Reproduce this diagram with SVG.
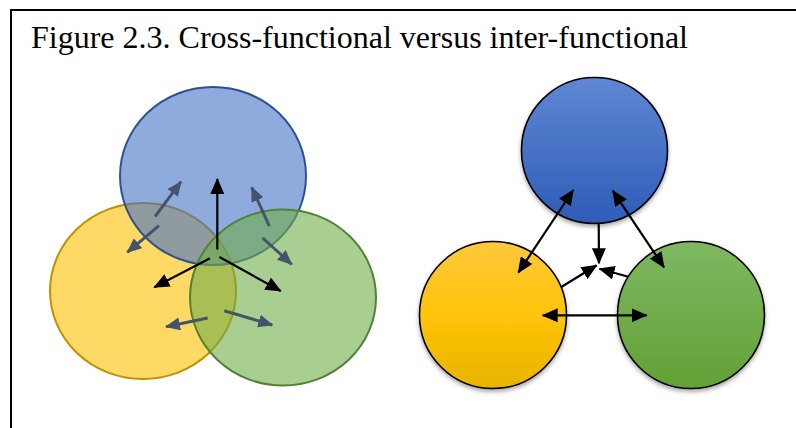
<svg xmlns="http://www.w3.org/2000/svg" width="796" height="428" viewBox="0 0 796 428">
  <style>
    .title { font-family: "Liberation Serif", "Times New Roman", serif; font-size: 32px; fill: #000; }
    .frame { fill: #fff; stroke: #000; stroke-width: 2; }
    .vb { fill: #4472C4; fill-opacity: 0.6; stroke: #2F528F; stroke-width: 2; }
    .vy { fill: #FFC000; fill-opacity: 0.6; stroke: #BF9000; stroke-width: 2; }
    .vg { fill: #70AD47; fill-opacity: 0.6; stroke: #538135; stroke-width: 2; }
    .cb { fill: url(#gBlue); stroke: #000; stroke-width: 1.6; filter: url(#shadow); }
    .cy { fill: url(#gYellow); stroke: #000; stroke-width: 1.6; filter: url(#shadow); }
    .cg { fill: url(#gGreen); stroke: #000; stroke-width: 1.6; filter: url(#shadow); }
    .blk { stroke: #000; stroke-width: 2.2; fill: none; marker-end: url(#mBlack); }
    .blk2 { stroke: #000; stroke-width: 2.2; fill: none; marker-start: url(#mBlack); marker-end: url(#mBlack); }
    .gry { stroke: #44546A; stroke-width: 3; fill: none; marker-end: url(#mGray); }
  </style>
  <defs>
    <marker id="mBlack" viewBox="0 0 16 14" refX="15" refY="7" markerWidth="16" markerHeight="14" markerUnits="userSpaceOnUse" orient="auto-start-reverse">
      <path d="M0,0 L16,7 L0,14 z" fill="#000"/>
    </marker>
    <marker id="mGray" viewBox="0 0 15 13" refX="14" refY="6.5" markerWidth="15" markerHeight="13" markerUnits="userSpaceOnUse" orient="auto-start-reverse">
      <path d="M0,0 L15,6.5 L0,13 z" fill="#44546A"/>
    </marker>
    <linearGradient id="gBlue" x1="0" y1="0" x2="0" y2="1">
      <stop offset="0" stop-color="#5F87D4"/>
      <stop offset="1" stop-color="#2E5CB7"/>
    </linearGradient>
    <linearGradient id="gYellow" x1="0" y1="0" x2="0" y2="1">
      <stop offset="0" stop-color="#FFC83C"/>
      <stop offset="0.5" stop-color="#FFC408"/>
      <stop offset="1" stop-color="#E6B400"/>
    </linearGradient>
    <linearGradient id="gGreen" x1="0" y1="0" x2="0" y2="1">
      <stop offset="0" stop-color="#7EB862"/>
      <stop offset="1" stop-color="#62A135"/>
    </linearGradient>
    <filter id="shadow" x="-20%" y="-20%" width="140%" height="150%">
      <feDropShadow dx="0" dy="2.5" stdDeviation="2" flood-color="#000" flood-opacity="0.35"/>
    </filter>
  </defs>

  <rect class="frame" x="11" y="10" width="800" height="430"/>
  <text class="title" x="31" y="48">Figure 2.3. Cross-functional versus inter-functional</text>

  <!-- Left: cross-functional (overlapping) -->
  <g id="venn-yellow"><ellipse class="vy" cx="143" cy="291" rx="93" ry="88"/></g>
  <g id="venn-blue"><ellipse class="vb" cx="213" cy="176" rx="93" ry="89"/></g>
  <g id="venn-green"><ellipse class="vg" cx="283" cy="297.5" rx="93" ry="88"/></g>

  <!-- Right: inter-functional -->
  <g id="node-blue"><circle class="cb" cx="594.5" cy="150.5" r="73"/></g>
  <g id="node-yellow"><circle class="cy" cx="493" cy="315" r="73.5"/></g>
  <g id="node-green"><circle class="cg" cx="691" cy="315" r="73.5"/></g>

  <g id="connectors">
    <!-- left diagram: black -->
    <line class="blk" x1="217.3" y1="249.5" x2="217.3" y2="179"/>
    <line class="blk" x1="210" y1="258.3" x2="154.3" y2="287.3"/>
    <line class="blk" x1="219.5" y1="257" x2="280.7" y2="291"/>
    <!-- left diagram: gray -->
    <line class="gry" x1="155" y1="216.7" x2="181" y2="181.7"/>
    <line class="gry" x1="159" y1="225.7" x2="127.3" y2="252.3"/>
    <line class="gry" x1="269.3" y1="226" x2="251.7" y2="187.3"/>
    <line class="gry" x1="262.7" y1="238" x2="291.7" y2="264.3"/>
    <line class="gry" x1="207.7" y1="318" x2="166" y2="326.7"/>
    <line class="gry" x1="224.3" y1="310.7" x2="272.3" y2="325" stroke-width="4"/>
    <!-- right diagram -->
    <line class="blk2" x1="573.3" y1="190" x2="518.3" y2="272.7"/>
    <line class="blk2" x1="612.7" y1="190.7" x2="664" y2="267.3"/>
    <line class="blk2" x1="542.7" y1="315.3" x2="646.7" y2="315.3"/>
    <line class="blk" x1="598.7" y1="223" x2="599" y2="263.3"/>
    <line class="blk" x1="561.7" y1="286.7" x2="596.7" y2="265.3"/>
    <line class="blk" x1="628.3" y1="276.7" x2="599.5" y2="268.7"/>
  </g>
</svg>
